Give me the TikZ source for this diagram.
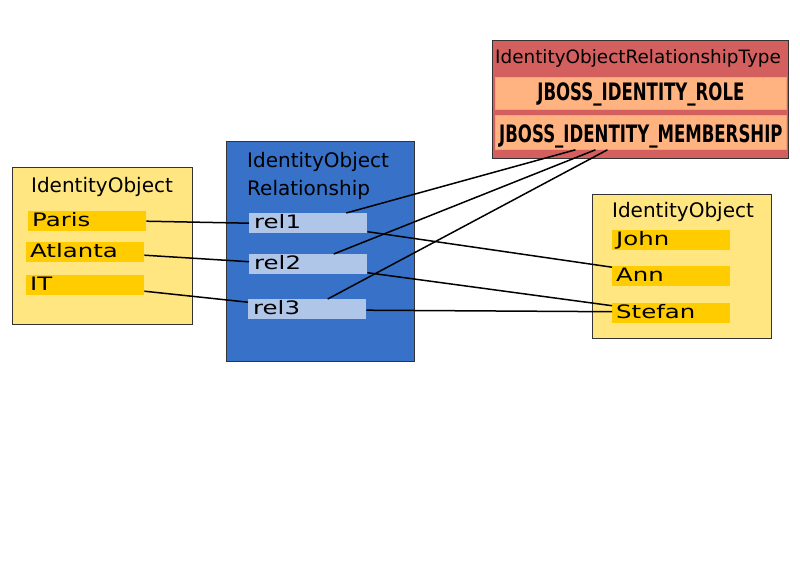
\documentclass[tikz,border=0pt]{standalone}
\usepackage{fontspec}
\setmainfont{DejaVu Sans}
\newfontfamily\itemfont[FakeStretch=1.32]{DejaVu Sans}
\newfontfamily\typefont[FakeStretch=0.69]{DejaVu Sans}
\usepackage{tikz}

\definecolor{lightyolk}{HTML}{FFE680}
\definecolor{yolk}{HTML}{FFCC00}
\definecolor{relblue}{HTML}{3771C8}
\definecolor{relpale}{HTML}{AFC6E9}
\definecolor{typered}{HTML}{D35F5F}
\definecolor{typepeach}{HTML}{FFB380}

\begin{document}
\begin{tikzpicture}[x=1pt, y=-1pt,
  objbox/.style={draw=black!80, line width=1pt, anchor=north west, inner sep=0pt},
  item/.style={anchor=north west, text width=110pt, inner xsep=4pt, inner ysep=0pt,
    minimum height=20pt, align=left, text height=13pt, text depth=3pt,
    font=\itemfont\fontsize{18.5}{20}\selectfont},
  typeitem/.style={fill=typepeach, draw=typepeach!80!typered, line width=.8pt,
    anchor=north west, minimum width=291pt, inner sep=0pt,
    font=\typefont\bfseries\fontsize{24}{26}\selectfont},
  title/.style={inner sep=0pt, font=\fontsize{20}{24}\selectfont},
  conn/.style={line width=1.5pt}]

  \useasboundingbox (0,0) rectangle (800,566);

  % Boxes
  \node[objbox, fill=lightyolk, minimum width=180pt, minimum height=157pt] (groups) at (12,167) {};
  \node[objbox, fill=relblue, minimum width=188pt, minimum height=220pt] (rels) at (226,141) {};
  \node[objbox, fill=lightyolk, minimum width=179pt, minimum height=144pt] (users) at (592,194) {};
  \node[objbox, fill=typered, minimum width=296pt, minimum height=118pt] (types) at (492,40) {};

  % Titles
  \node[title, anchor=base] (groupstitle) at (102,192) {IdentityObject};
  \node[title, anchor=base west] (relstitle) at (247,167) {IdentityObject};
  \node[title, anchor=base west] (relstitleb) at (247,195) {Relationship};
  \node[title, anchor=base] (userstitle) at (683,217) {IdentityObject};
  \node[inner sep=0pt, anchor=base, font=\fontsize{18.4}{22}\selectfont] (typestitle) at (638,63)
    {IdentityObjectRelationshipType};

  % Entries
  \foreach \nm/\lab/\x/\y in {paris/Paris/28/211, atlanta/Atlanta/26/242, it/IT/26/275}
    \node[item, fill=yolk] (\nm) at (\x,\y) {\lab};
  \foreach \nm/\lab/\y in {john/John/230, ann/Ann/266, stefan/Stefan/303}
    \node[item, fill=yolk] (\nm) at (612,\y) {\lab};
  \foreach \nm/\x/\y in {rel1/249/213, rel2/249/254, rel3/248/299}
    \node[item, fill=relpale, inner xsep=5pt, text width=108pt] (\nm) at (\x,\y) {\nm};

  \node[typeitem, minimum height=32pt, text height=17pt, text depth=3pt] (role) at (495,77)
    {JBOSS\_IDENTITY\_ROLE};
  \node[typeitem, minimum height=34pt, text height=21pt, text depth=0pt] (membership) at (495,115)
    {JBOSS\_IDENTITY\_MEMBERSHIP};

  % Connectors
  \draw[conn] (paris.east) -- (rel1.west);
  \draw[conn] ([yshift=-3pt]atlanta.east) -- ([yshift=2.5pt]rel2.west);
  \draw[conn] ([yshift=-6pt]it.east) -- ([yshift=7pt]rel3.west);

  \draw[conn] ([yshift=-8.5pt]rel1.east) -- ([yshift=9pt]ann.west);
  \draw[conn] ([yshift=-8.5pt]rel2.east) -- ([yshift=7.5pt]stefan.west);
  \draw[conn] ([yshift=-1pt]rel3.east) -- ([yshift=1.5pt]stefan.west);

  \draw[conn] ([xshift=38pt]rel1.north) -- ([xshift=-65.5pt]membership.south);
  \draw[conn] ([xshift=25.5pt]rel2.north) -- ([xshift=-45.5pt]membership.south);
  \draw[conn] ([xshift=20.5pt]rel3.north) -- ([xshift=-33.5pt]membership.south);
\end{tikzpicture}
\end{document}
